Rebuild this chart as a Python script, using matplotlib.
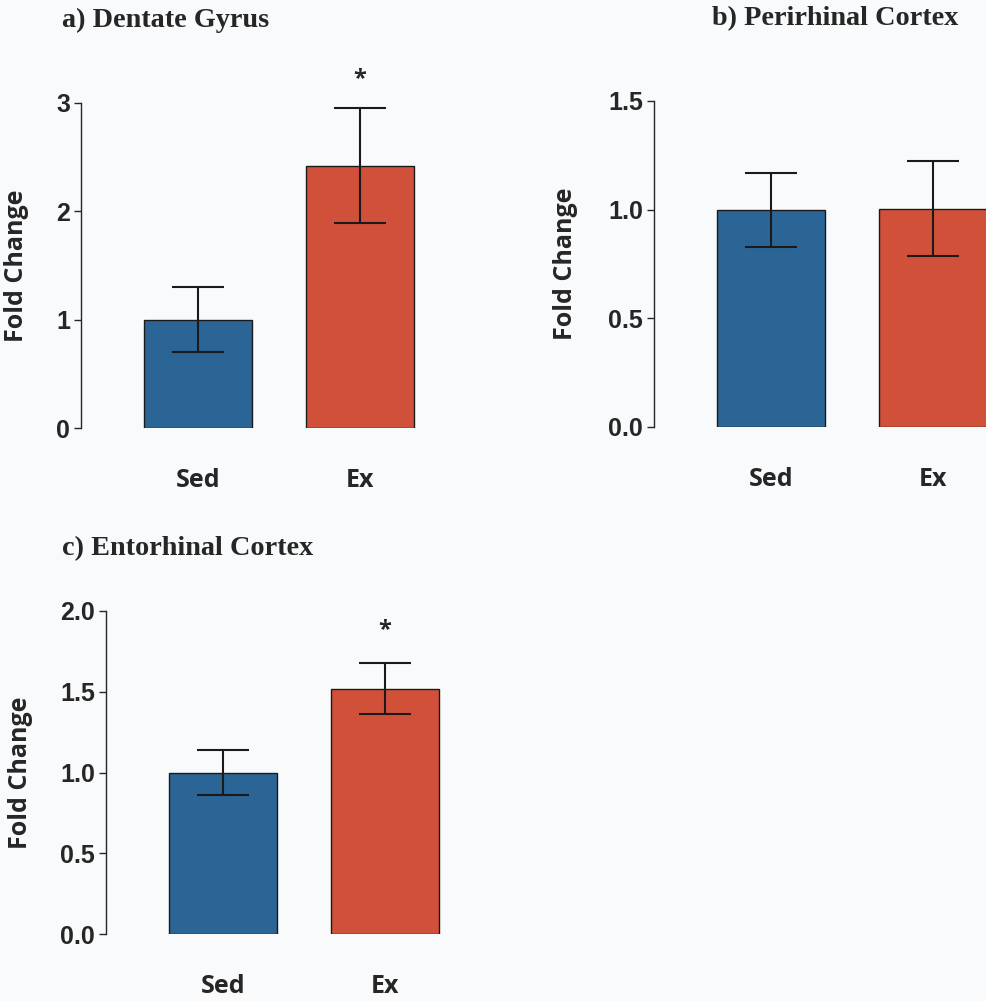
import numpy as np
import matplotlib
matplotlib.use("Agg")
import matplotlib.pyplot as plt

# group labels and values
groups = ["Sed", "Ex"]
dg_mean = [1.00, 2.42]
dg_err = [0.30, 0.53]
prc_mean = [1.00, 1.005]
prc_err = [0.17, 0.22]
ec_mean = [1.00, 1.52]
ec_err = [0.14, 0.16]

BLUE = "#2B6596"; RED = "#D1503A"; INK = "#262626"; BG = "#F9FAFB"
W, H = 986, 1001

fig = plt.figure(figsize=(W / 100, H / 100), dpi=100, facecolor=BG)


def px_axes(left, top, bottom, width=396):
    # pixel box -> figure fraction
    return fig.add_axes([left / W, (H - bottom) / H, width / W, (bottom - top) / H])


def panel(ax, mean, err, ylim, yticks, ticklabels, label_x, star_y=None):
    x = np.arange(len(groups))
    ax.bar(x, mean, width=0.667, color=[BLUE, RED], edgecolor="#1a1a1a",
           linewidth=1.0, zorder=2)
    ax.errorbar(x, mean, yerr=err, fmt="none", ecolor="#1a1a1a", elinewidth=1.5,
                capsize=19, capthick=1.5, zorder=3)
    ax.set_xlim(-0.72, 1.72)
    ax.set_ylim(*ylim)
    ax.set_facecolor("none")
    for s in ["top", "right", "bottom"]:
        ax.spines[s].set_visible(False)
    ax.spines["left"].set_linewidth(1.0)
    ax.spines["left"].set_color(INK)
    ax.set_yticks(yticks)
    ax.set_yticklabels(ticklabels, fontfamily="Liberation Sans", fontweight="bold",
                       fontsize=18, color=INK)
    ax.tick_params(axis="y", length=5, width=1.0, color=INK, pad=3)
    ax.set_xticks(x)
    ax.set_xticklabels(groups, fontfamily="Open Sans", fontweight="bold",
                       fontsize=18, color=INK)
    ax.tick_params(axis="x", length=0, pad=29)
    ax.set_ylabel("Fold Change", fontfamily="Open Sans", fontweight="bold",
                  fontsize=18, color=INK)
    ax.yaxis.set_label_coords(label_x, 0.5)
    if star_y is not None:
        ax.text(1, star_y, "*", ha="center", va="center", fontfamily="Open Sans",
                fontweight="bold", fontsize=17, color=INK)


ax_a = px_axes(81, 103, 428)
panel(ax_a, dg_mean, dg_err, (0, 3), [0, 1, 2, 3], ["0", "1", "2", "3"],
      -0.131, star_y=3.22)

ax_b = px_axes(654, 101, 427)
panel(ax_b, prc_mean, prc_err, (0, 1.5), [0, 0.5, 1.0, 1.5],
      ["0.0", "0.5", "1.0", "1.5"], -0.192)

ax_c = px_axes(106, 611, 934)
panel(ax_c, ec_mean, ec_err, (0, 2.0), [0, 0.5, 1.0, 1.5, 2.0],
      ["0.0", "0.5", "1.0", "1.5", "2.0"], -0.184, star_y=1.88)

title_kw = dict(fontfamily="Liberation Serif", fontweight="bold", fontsize=20.3,
                color=INK, ha="left", va="center")
fig.text(62 / W, 1 - 20 / H, "a) Dentate Gyrus", **title_kw)
fig.text(712 / W, 1 - 19 / H, "b) Perirhinal Cortex", **title_kw)
fig.text(62 / W, 1 - 549 / H, "c) Entorhinal Cortex", **title_kw)

fig.savefig("out.png", dpi=100, facecolor=BG)
